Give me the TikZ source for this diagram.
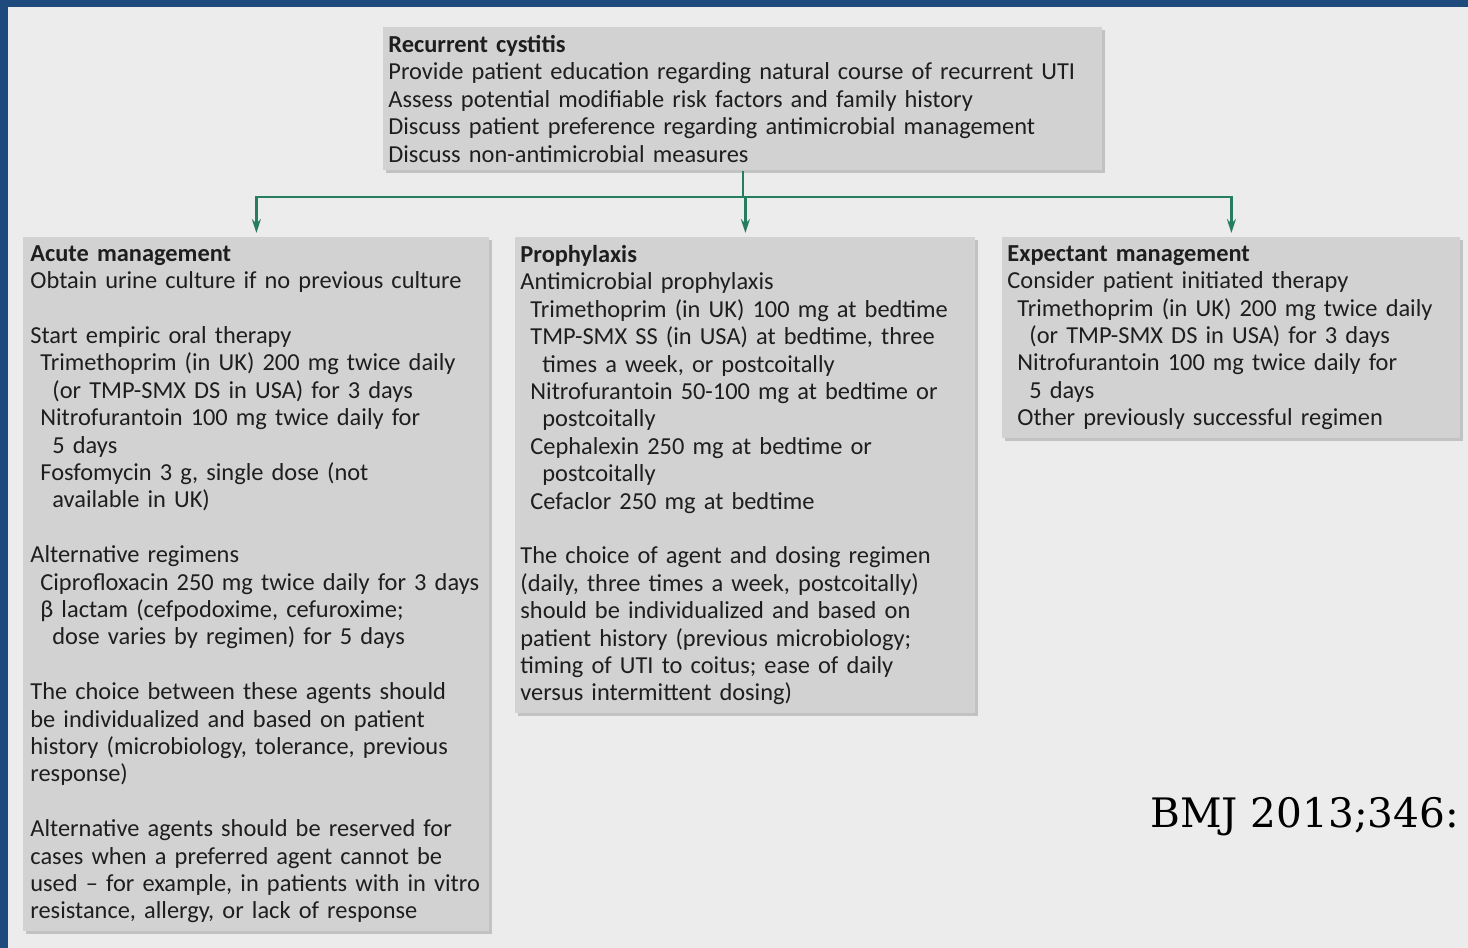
\documentclass[tikz,border=0pt]{standalone}
\usepackage{fontspec}
\newfontfamily\boxfont{Carlito}
\newfontfamily\citefont{DejaVu Serif}
\usetikzlibrary{arrows.meta,shadows}

\definecolor{slideblue}{RGB}{31,74,126}
\definecolor{pagegrey}{RGB}{236,236,236}
\definecolor{boxgrey}{RGB}{210,210,210}
\definecolor{linkgreen}{RGB}{38,125,98}
\definecolor{inkgrey}{RGB}{30,30,30}

\newcommand{\drug}{\hspace*{5pt}}
\newcommand{\drugcont}{\hspace*{11pt}}

\tikzset{
	infobox/.style={fill=boxgrey, text=inkgrey, anchor=north west, align=left,
		font=\boxfont\fontsize{12.2}{13.7}\selectfont, inner xsep=2.5pt, inner ysep=4pt,
		drop shadow={shadow xshift=1.5pt, shadow yshift=-1.5pt, fill=black!35, opacity=.6}},
	link/.style={draw=linkgreen, line width=1.2pt, -{Stealth[length=7pt, width=4.5pt]}}
}

\begin{document}
\begin{tikzpicture}[x=.5pt, y=-.5pt]
	\useasboundingbox (0,0) rectangle (1468,948);
	\fill[pagegrey] (0,0) rectangle (1468,948);
	\fill[slideblue] (0,0) rectangle (1468,7);
	\fill[slideblue] (0,0) rectangle (8,948);

	\node[infobox, text width=354.5pt] (cystitis) at (383,27) {%
		\textbf{Recurrent cystitis}\\
		Provide patient education regarding natural course of recurrent UTI\\
		Assess potential modifiable risk factors and family history\\
		Discuss patient preference regarding antimicrobial management\\
		Discuss non-antimicrobial measures};

	\node[infobox, text width=226pt, inner xsep=3.5pt] (acute) at (23,237) {%
		\textbf{Acute management}\\
		Obtain urine culture if no previous culture\\[\baselineskip]
		Start empiric oral therapy\\
		\drug Trimethoprim (in UK) 200 mg twice daily\\
		\drugcont (or TMP-SMX DS in USA) for 3 days\\
		\drug Nitrofurantoin 100 mg twice daily for\\
		\drugcont 5 days\\
		\drug Fosfomycin 3 g, single dose (not\\
		\drugcont available in UK)\\[\baselineskip]
		Alternative regimens\\
		\drug Ciprofloxacin 250 mg twice daily for 3 days\\
		\drug β lactam (cefpodoxime, cefuroxime;\\
		\drugcont dose varies by regimen) for 5 days\\[\baselineskip]
		The choice between these agents should\\
		be individualized and based on patient\\
		history (microbiology, tolerance, previous\\
		response)\\[\baselineskip]
		Alternative agents should be reserved for\\
		cases when a preferred agent cannot be\\
		used – for example, in patients with in vitro\\
		resistance, allergy, or lack of response};

	\node[infobox, text width=225pt] (prophylaxis) at (515,237) {%
		\textbf{Prophylaxis}\\
		Antimicrobial prophylaxis\\
		\drug Trimethoprim (in UK) 100 mg at bedtime\\
		\drug TMP-SMX SS (in USA) at bedtime, three\\
		\drugcont times a week, or postcoitally\\
		\drug Nitrofurantoin 50-100 mg at bedtime or\\
		\drugcont postcoitally\\
		\drug Cephalexin 250 mg at bedtime or\\
		\drugcont postcoitally\\
		\drug Cefaclor 250 mg at bedtime\\[\baselineskip]
		The choice of agent and dosing regimen\\
		(daily, three times a week, postcoitally)\\
		should be individualized and based on\\
		patient history (previous microbiology;\\
		timing of UTI to coitus; ease of daily\\
		versus intermittent dosing)};

	\node[infobox, text width=224pt] (expectant) at (1002,237) {%
		\textbf{Expectant management}\\
		Consider patient initiated therapy\\
		\drug Trimethoprim (in UK) 200 mg twice daily\\
		\drugcont (or TMP-SMX DS in USA) for 3 days\\
		\drug Nitrofurantoin 100 mg twice daily for\\
		\drugcont 5 days\\
		\drug Other previously successful regimen};

	\node[anchor=base west, inner sep=0pt, font=\citefont\fontsize{20.3}{24}\selectfont] (source) at (1150,827) {BMJ 2013;346:};

	\coordinate (split) at ([yshift=-13pt]cystitis.south);
	\draw[link, -] (cystitis.south) -- (split);
	\foreach \target in {acute, prophylaxis, expectant}{
			\draw[link, shorten >=2pt] (split) -| (\target.north);
		}
\end{tikzpicture}
\end{document}
